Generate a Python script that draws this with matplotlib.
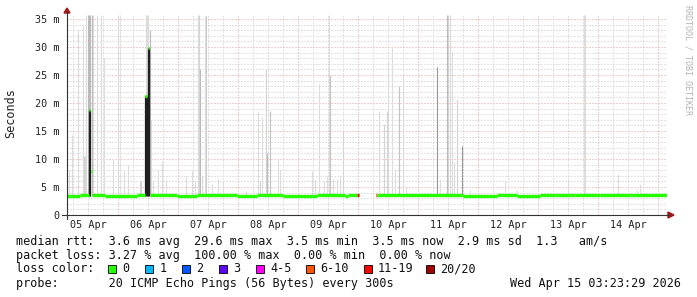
import numpy as np
import matplotlib
matplotlib.use('Agg')
import matplotlib.pyplot as plt
from matplotlib.lines import Line2D
from matplotlib.patches import Polygon, Rectangle

W, H = 697, 297

# hours since 05 Apr 00:00 (last 10 days up to 15 Apr 03:23)
t_start = 3.39
t_end = 243.39
day_labels = ['05 Apr', '06 Apr', '07 Apr', '08 Apr', '09 Apr',
              '10 Apr', '11 Apr', '12 Apr', '13 Apr', '14 Apr']

# median rtt in ms, one step per segment, with lost pings (of 20)
med_t0 = [3.4, 8.8, 12.4, 13.0, 13.6, 18.8, 31.6, 34.8, 35.8, 36.8, 47.6, 55.6, 71.6, 79.6,
          90.0, 103.6, 114.8, 116.0, 119.6, 127.0, 127.6, 162.0, 175.6, 183.6, 192.8,
          198.8, 206.8, 216.8, 228.8]
med_t1 = [8.8, 12.4, 12.8, 13.4, 18.8, 31.6, 34.8, 35.4, 36.4, 47.6, 55.6, 71.6, 79.6, 90.0,
          103.6, 114.8, 116.0, 119.6, 120.2, 127.6, 162.0, 175.6, 183.6, 192.8, 198.8,
          206.8, 216.8, 228.8, 243.4]
med_ms = [3.45, 3.65, 18.8, 7.9, 3.65, 3.45, 3.65, 21.2, 29.8, 3.65, 3.45, 3.65, 3.45, 3.65,
          3.45, 3.65, 3.45, 3.65, 3.6, 3.6, 3.65, 3.45, 3.65, 3.45, 3.55,
          3.65, 3.5, 3.65, 3.55]
med_loss = [0, 0, 0, 0, 0, 0, 0, 0, 0, 0, 0, 0, 0, 0,
            0, 0, 0, 0, 12, 12, 0, 0, 0, 0, 0,
            0, 0, 0, 0]

# smoke: highest ping per interval and how many pings are spread up there
smoke_t = [4.4, 5.6, 8.0, 10.0, 10.4, 10.8, 11.2, 12.0, 12.4, 12.8, 13.4, 14.0, 15.6, 17.2,
           18.4, 22.0, 24.0, 24.8, 26.4, 28.0, 32.8, 33.2, 35.2, 35.6, 36.0, 36.8, 37.2,
           38.0, 40.0, 41.6, 43.2,
           51.2, 53.5, 54.8, 56.0, 56.4, 56.8, 57.5, 58.8, 59.2, 61.6, 64.0, 65.9, 75.2,
           80.0, 80.8, 81.6, 83.2, 83.6, 84.8, 88.0, 88.8,
           101.6, 102.8, 104.4, 106.4, 107.6, 108.4, 108.8, 110.0, 111.6, 112.8, 114.0,
           128.4, 130.4, 131.6, 132.0, 133.6, 134.8, 136.4, 138.0, 139.2,
           151.6, 152.8, 155.6, 156.0, 156.8, 157.6, 158.4, 159.5, 161.6, 164.8, 178.8, 183.6,
           204.0, 210.4, 210.8, 224.0, 231.6, 232.8]
smoke_top = [8, 14.3, 33, 34, 10.5, 10.5, 35.7, 35.7, 35.7, 35.7, 35.7, 35.7, 35.7, 35.7,
             28, 10, 35.7, 35.7, 8, 9, 6, 6, 35.7, 35.7, 35.7, 33, 17,
             6, 8, 9.7, 6,
             7, 8, 6, 35.7, 35.7, 26, 7, 35.5, 35.5, 5.5, 6.5, 6, 4.3,
             18.6, 6, 17.5, 26, 11, 18.6, 10, 8,
             8, 6.5, 23.3, 6, 7, 35.7, 25, 6.5, 6.5, 7, 15,
             18.6, 16.2, 18.6, 27.5, 30.2, 8, 23, 25.3, 5,
             26.5, 6.5, 35.7, 35.7, 35.7, 29.2, 9.5, 20.6, 12.3, 4.5, 6.3, 4.5,
             6.5, 35.7, 35.7, 7.4, 4.5, 5.5]
smoke_pings = [2, 2, 2, 2, 3, 3, 2, 6, 6, 6, 6, 2, 2, 2,
               2, 2, 2, 1, 2, 2, 3, 3, 2, 2, 2, 6, 2,
               2, 2, 2, 2,
               2, 2, 2, 2, 3, 6, 2, 2, 4, 2, 2, 2, 2,
               2, 3, 2, 3, 6, 5, 2, 2,
               2, 2, 2, 2, 2, 2, 5, 2, 2, 2, 3,
               2, 3, 3, 2, 2, 2, 5, 2, 2,
               9, 2, 6, 3, 2, 2, 2, 3, 9, 2, 2, 2,
               2, 2, 2, 2, 2, 2]

# pings lost entirely -> the dark smoke at the two bursts
burst_t = [12.4, 12.8, 34.8, 35.2, 35.6, 36.0, 36.4]
burst_top = [18.8, 18.8, 21.2, 21.2, 21.2, 29.8, 29.8]

loss_labels = ['0', '1', '2', '3', '4-5', '6-10', '11-19', '20/20']
loss_limits = [0, 1, 2, 3, 5, 10, 19, 20]
loss_colors = ['#26ff00', '#00b8ff', '#0059ff', '#5e00ff', '#ff00ff', '#ff5500', '#ff0000', '#a10000']

stats_rtt = ['3.6 ms avg', '29.6 ms max', '3.5 ms min', '3.5 ms now', '2.9 ms sd', '1.3   am/s']
stats_loss = ['3.27 % avg', '100.00 % max', '0.00 % min', '0.00 % now']

mono = 'DejaVu Sans Mono'


def fx(px):
    return px / W


def fy(py):
    return 1 - py / H


def loss_color(n):
    for lim, c in zip(loss_limits, loss_colors):
        if n <= lim:
            return c
    return loss_colors[-1]


fig = plt.figure(figsize=(W / 100, H / 100), dpi=100)
fig.patch.set_facecolor('white')
ax = fig.add_axes([fx(66.5), fy(215), 600 / W, 200 / H])
ax.set_xlim(t_start, t_end)
ax.set_ylim(0, 35.7)
for s in ax.spines.values():
    s.set_visible(False)

# grid
ax.set_xticks(np.arange(24, 241, 24))
ax.set_xticks(np.arange(6, 243, 6), minor=True)
ax.set_yticks(np.arange(0, 36, 5))
ax.set_yticks(np.arange(0, 36, 1), minor=True)
ax.set_axisbelow(True)
ax.grid(which='minor', color='#c8c8c8', lw=0.72, ls=(0, (1, 2)))
ax.grid(which='major', color='#e2a0a0', lw=0.72, ls=(0, (1, 2)))
ax.tick_params(which='both', length=0)
ax.tick_params(axis='x', labelbottom=False)
ax.set_yticklabels(['0'] + ['%d m' % v for v in range(5, 36, 5)],
                   family=mono, fontsize=7.3, color='#222222')
ax.tick_params(axis='y', pad=5)

for i, lab in enumerate(day_labels):
    ax.text(12 + 24 * i, -0.05, lab, transform=ax.get_xaxis_transform(),
            ha='center', va='center', family=mono, fontsize=7.3, color='#222222')

# smoke
shade = [plt.cm.Greys(0.16 + 0.75 * n / 20) for n in smoke_pings]
ax.vlines(smoke_t, 3.4, smoke_top, colors=shade, lw=0.8, zorder=2)
ax.vlines(burst_t, 3.4, burst_top, colors='#202020', lw=0.9, zorder=3)

# median line, coloured by loss
med_cols = [loss_color(n) for n in med_loss]
lc = ax.hlines(med_ms, med_t0, med_t1, colors=med_cols, lw=2.4, zorder=4)
lc.set_capstyle('butt')

# axis lines and arrows
fig.add_artist(Line2D([fx(67), fx(67)], [fy(219), fy(12)], color='#333333', lw=0.8))
fig.add_artist(Line2D([fx(62), fx(669)], [fy(215), fy(215)], color='#333333', lw=0.8))
fig.add_artist(Polygon([[fx(64), fy(13)], [fx(70), fy(13)], [fx(67), fy(8)]],
                       closed=True, color='#a01818', transform=fig.transFigure))
fig.add_artist(Polygon([[fx(668), fy(212)], [fx(668), fy(218)], [fx(674), fy(215)]],
                       closed=True, color='#a01818', transform=fig.transFigure))

fig.text(fx(10.5), fy(113), 'Seconds', rotation=90, ha='center', va='center',
         family=mono, fontsize=8.5, color='#222222')
fig.text(fx(688), fy(60), 'RRDTOOL / TOBI OETIKER', rotation=270, ha='center', va='center',
         family=mono, fontsize=6, color='#b4b4b4')

# legend block
txt = dict(family=mono, fontsize=8.5, color='#111111', va='center', ha='left')
fig.text(fx(16), fy(241.5), 'median rtt:  ' + '  '.join(stats_rtt), **txt)
fig.text(fx(16), fy(255.5), 'packet loss: ' + '  '.join(stats_loss), **txt)
fig.text(fx(16), fy(268.5), 'loss color:', **txt)
box_x = [108, 145, 182, 219, 255.5, 305.5, 363.5, 425.5]
for bx, lab, col in zip(box_x, loss_labels, loss_colors):
    fig.add_artist(Rectangle((fx(bx), fy(272.5)), 8 / W, 8 / H, transform=fig.transFigure,
                             facecolor=col, edgecolor='black', lw=0.6))
    fig.text(fx(bx + 14.5), fy(268.5), lab, **txt)
fig.text(fx(16), fy(283), 'probe:       20 ICMP Echo Pings (56 Bytes) every 300s', **txt)
fig.text(fx(681), fy(283), 'Wed Apr 15 03:23:29 2026', **dict(txt, ha='right'))

fig.savefig('out.png', dpi=100)
